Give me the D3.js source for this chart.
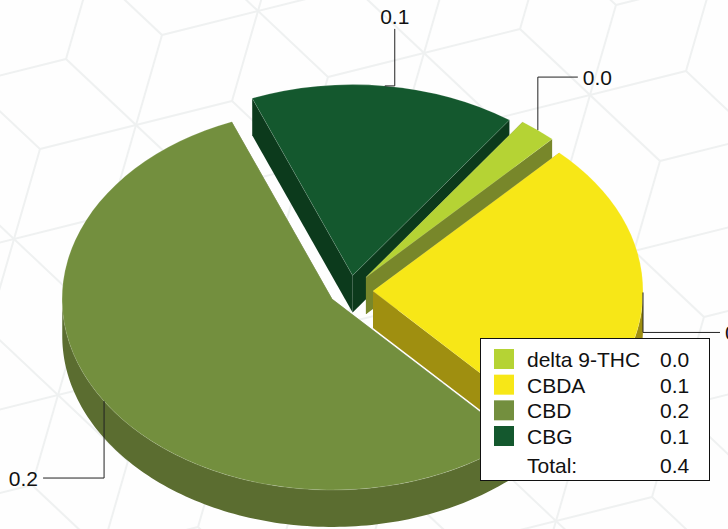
<!DOCTYPE html>
<html>
<head>
<meta charset="utf-8">
<script src="https://cdn.jsdelivr.net/npm/d3@7"></script>
<style>
  html, body { margin: 0; padding: 0; background: #fefefe; overflow: hidden; }
  svg { display: block; }
</style>
</head>
<body>
<div id="chart"></div>
<script>
// data (labels only show one decimal)
const categories = ["delta 9-THC", "CBDA", "CBD", "CBG"];
const values = [0.009, 0.104, 0.2233, 0.0637];
const totalLabel = "Total:";
const topColors = ["#b5d334", "#f7e717", "#738f3e", "#14582e"];
const sideColors = ["#78872a", "#9f8f10", "#5b6d30", "#0c3a1c"];

const width = 728;
const height = 529;
const fontFamily = "'Liberation Sans', Arial, sans-serif";
const fontSize = 21;
const fmt = d3.format(".1f");

const svg = d3.select("#chart").append("svg")
    .attr("width", width)
    .attr("height", height)
    .attr("viewBox", `0 0 ${width} ${height}`);

svg.append("rect").attr("width", width).attr("height", height).attr("fill", "#fefefe");

// ---------- background: tumbling block lattice ----------
const edgeA = [96, -24], edgeB = [70, 66], edgeC = [-26, 90];
const origin = [136, 125];
const bg = svg.append("g").attr("stroke", "#eff1f1").attr("stroke-width", 2).attr("fill", "none");
d3.range(-4, 6).forEach(m => {
    d3.range(-4, 6).forEach(n => {
        const px = origin[0] + m * (edgeA[0] - edgeC[0]) + n * (edgeB[0] + edgeC[0]);
        const py = origin[1] + m * (edgeA[1] - edgeC[1]) + n * (edgeB[1] + edgeC[1]);
        [edgeA, edgeB, edgeC].forEach(e => {
            bg.append("line")
                .attr("x1", px - e[0]).attr("y1", py - e[1])
                .attr("x2", px + e[0]).attr("y2", py + e[1]);
        });
    });
});

// ---------- pie geometry ----------
const cx = 350, cy = 291;
const rx = 270, ry = 191;
const depth = 37;
const startDeg = 35.5;
const explode = [25, 23, 21, 22];
// leader path relative to the point on the rim: first leg, then second leg
const leaderOffsets = [[0, -53, 40, 0], [0, 40, 77, 0], [0, 77, -61, 0], [10, 0, 0, -57]];

const pie = d3.pie().sort(null)
    .startAngle(startDeg * Math.PI / 180)
    .endAngle((startDeg + 360) * Math.PI / 180);
const arcs = pie(values);

const xScale = d3.scaleLinear().domain([-1, 1]).range([-rx, rx]);
const yScale = d3.scaleLinear().domain([-1, 1]).range([-ry, ry]);
const rimX = a => xScale(Math.sin(a));
const rimY = a => yScale(-Math.cos(a));
const mid = d => (d.startAngle + d.endAngle) / 2;

const topArc = d3.arc().innerRadius(0).outerRadius(1);
const line = d3.line();

// back to front
const drawOrder = [3, 0, 1, 2];
const pieGroup = svg.append("g");

drawOrder.forEach(i => {
    const d = arcs[i];
    const m = mid(d);
    const ox = cx + explode[i] * Math.sin(m);
    const oy = cy - explode[i] * (ry / rx) * Math.cos(m);
    d.ox = ox;
    d.oy = oy;
    const g = pieGroup.append("g").attr("transform", `translate(${ox},${oy})`);

    // radial walls
    [d.startAngle, d.endAngle].forEach(a => {
        g.append("path")
            .attr("d", line([[0, 0], [rimX(a), rimY(a)], [rimX(a), rimY(a) + depth], [0, depth]]) + "Z")
            .attr("fill", sideColors[i]);
    });

    // outer wall, only the part facing the viewer
    const a0 = Math.max(d.startAngle, Math.PI / 2);
    const a1 = Math.min(d.endAngle, Math.PI * 1.5);
    if (a1 > a0) {
        const samples = d3.range(a0, a1, 0.02).concat([a1]);
        const upper = samples.map(a => [rimX(a), rimY(a)]);
        const lower = samples.slice().reverse().map(a => [rimX(a), rimY(a) + depth]);
        g.append("path")
            .attr("d", line(upper.concat(lower)) + "Z")
            .attr("fill", sideColors[i]);
    }

    // top face
    g.append("path")
        .attr("d", topArc(d))
        .attr("transform", `scale(${rx},${ry})`)
        .attr("fill", topColors[i])
        .attr("stroke", "#ffffff")
        .attr("stroke-opacity", 0.3)
        .attr("stroke-width", 0.5)
        .attr("vector-effect", "non-scaling-stroke");
});

// ---------- leader lines and value labels ----------
const labelGroup = svg.append("g")
    .attr("font-family", fontFamily)
    .attr("font-size", fontSize)
    .attr("fill", "#111");

arcs.forEach((d, i) => {
    const m = mid(d);
    const sx = d.ox + rimX(m);
    const sy = d.oy + rimY(m);
    const o = leaderOffsets[i];
    const p1 = [sx + o[0], sy + o[1]];
    const p2 = [p1[0] + o[2], p1[1] + o[3]];
    labelGroup.append("path")
        .attr("d", line([[sx, sy], p1, p2]))
        .attr("fill", "none")
        .attr("stroke", "#222")
        .attr("stroke-width", 1);

    const t = labelGroup.append("text").text(fmt(values[i]));
    if (o[3] !== 0) {
        // label sits above a vertical end
        t.attr("x", p2[0]).attr("y", p2[1] - 5).attr("text-anchor", "middle");
    } else if (o[2] > 0) {
        t.attr("x", p2[0] + 5).attr("y", p2[1] + 8);
    } else {
        t.attr("x", p2[0] - 5).attr("y", p2[1] + 8).attr("text-anchor", "end");
    }
});

// ---------- legend ----------
const legend = svg.append("g").attr("font-family", fontFamily).attr("font-size", fontSize).attr("fill", "#111");
legend.append("rect")
    .attr("x", 480.5).attr("y", 338.5)
    .attr("width", 229).attr("height", 142)
    .attr("fill", "#fff").attr("stroke", "#111").attr("stroke-width", 1);

const rowY = d3.scaleLinear().domain([0, 3]).range([349, 426]);
categories.forEach((c, i) => {
    legend.append("rect")
        .attr("x", 494).attr("y", rowY(i))
        .attr("width", 20).attr("height", 20)
        .attr("fill", topColors[i]);
    legend.append("text").attr("x", 527).attr("y", rowY(i) + 18).text(c);
    legend.append("text").attr("x", 660).attr("y", rowY(i) + 18).text(fmt(values[i]));
});
legend.append("text").attr("x", 527).attr("y", 473).text(totalLabel);
legend.append("text").attr("x", 660).attr("y", 473).text(fmt(d3.sum(values)));
</script>
</body>
</html>
